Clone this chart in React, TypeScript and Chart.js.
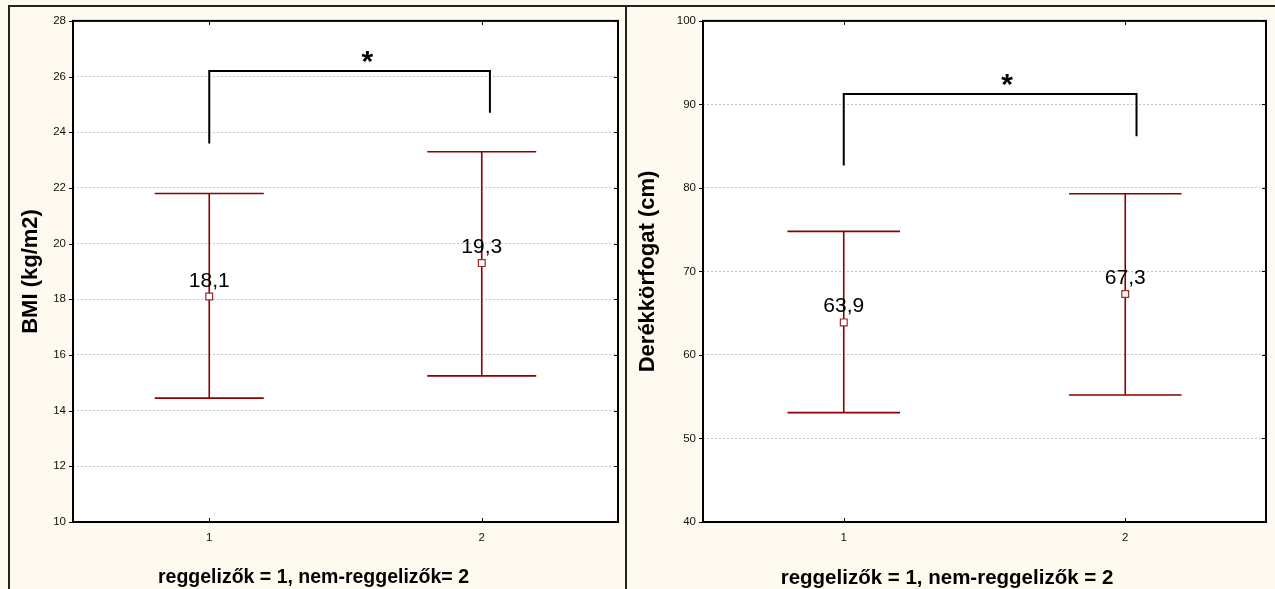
import React, { useEffect, useRef } from 'react';
import { Chart, registerables } from 'chart.js';

Chart.register(...registerables);

// ---- data ----
const categories = [1, 2];
const xTickLabels = ['1', '2'];

const bmiMean = [18.1, 19.3];
const bmiHigh = [21.8, 23.3];
const bmiLow = [14.45, 15.25];
const bmiBracketX = [1, 1, 2.03, 2.03];
const bmiBracketY = [23.6, 26.2, 26.2, 24.7];
const bmiStar = [1.58, 26.2];

const waistMean = [63.9, 67.3];
const waistHigh = [74.8, 79.3];
const waistLow = [53.1, 55.2];
const waistBracketX = [1, 1, 2.04, 2.04];
const waistBracketY = [82.7, 91.25, 91.25, 86.2];
const waistStar = [1.58, 91.3];

const FONT = '"Liberation Sans", Arial, sans-serif';
const ERR_COLOR = '#8b0000';
const FRAME = '#000000';

interface PanelSpec {
  yMin: number;
  yMax: number;
  yStep: number;
  mean: number[];
  high: number[];
  low: number[];
  bracketX: number[];
  bracketY: number[];
  star: number[];
  yTitle: string;
  xTitle: string;
  xTitleSize: number;
  axisWidth: number;
  padRight: number;
}

function makeChart(canvas: HTMLCanvasElement, p: PanelSpec) {
  const capHalf = 0.2;
  const overlay = {
    id: 'overlay',
    beforeDraw(chart: any) {
      const { ctx, chartArea } = chart;
      ctx.save();
      ctx.fillStyle = '#ffffff';
      ctx.fillRect(chartArea.left, chartArea.top, chartArea.right - chartArea.left, chartArea.bottom - chartArea.top);
      ctx.restore();
    },
    beforeDatasetsDraw(chart: any) {
      const { ctx } = chart;
      const x = chart.scales.x;
      const y = chart.scales.y;
      ctx.save();
      ctx.strokeStyle = ERR_COLOR;
      ctx.lineWidth = 1.6;
      categories.forEach((c, i) => {
        const px = x.getPixelForValue(c);
        const pl = x.getPixelForValue(c - capHalf);
        const pr = x.getPixelForValue(c + capHalf);
        const yh = y.getPixelForValue(p.high[i]);
        const yl = y.getPixelForValue(p.low[i]);
        ctx.beginPath();
        ctx.moveTo(px, yh);
        ctx.lineTo(px, yl);
        ctx.moveTo(pl, yh);
        ctx.lineTo(pr, yh);
        ctx.moveTo(pl, yl);
        ctx.lineTo(pr, yl);
        ctx.stroke();
      });
      ctx.restore();
    },
    afterDraw(chart: any) {
      const { ctx, chartArea } = chart;
      const x = chart.scales.x;
      const y = chart.scales.y;
      const { left, right, top, bottom } = chartArea;
      ctx.save();
      // frame
      ctx.strokeStyle = FRAME;
      ctx.lineWidth = 2;
      ctx.strokeRect(left, top, right - left, bottom - top);
      // ticks
      ctx.lineWidth = 1;
      ctx.beginPath();
      y.ticks.forEach((t: any) => {
        const py = Math.round(y.getPixelForValue(t.value)) + 0.5;
        ctx.moveTo(left - 4, py);
        ctx.lineTo(left, py);
        ctx.moveTo(right, py);
        ctx.lineTo(right - 4, py);
      });
      categories.forEach((c) => {
        const px = Math.round(x.getPixelForValue(c)) + 0.5;
        ctx.moveTo(px, top);
        ctx.lineTo(px, top + 4);
        ctx.moveTo(px, bottom);
        ctx.lineTo(px, bottom - 4);
      });
      ctx.stroke();
      // value labels
      ctx.fillStyle = '#000';
      ctx.font = `21px ${FONT}`;
      ctx.textAlign = 'center';
      ctx.textBaseline = 'alphabetic';
      categories.forEach((c, i) => {
        const px = x.getPixelForValue(c);
        const py = y.getPixelForValue(p.mean[i]);
        ctx.fillText(p.mean[i].toFixed(1).replace('.', ','), px, py - 10);
      });
      // star
      ctx.font = `bold 30px ${FONT}`;
      ctx.fillText('*', x.getPixelForValue(p.star[0]), y.getPixelForValue(p.star[1]));
      // x title
      ctx.font = `bold ${p.xTitleSize}px ${FONT}`;
      ctx.textBaseline = 'middle';
      ctx.fillText(p.xTitle, chart.width / 2 - 4, 571);
      // y title
      ctx.font = `bold 22px ${FONT}`;
      ctx.translate(21, (top + bottom) / 2);
      ctx.rotate(-Math.PI / 2);
      ctx.fillText(p.yTitle, 0, 0);
      ctx.restore();
    },
  };

  return new Chart(canvas, {
    type: 'scatter',
    data: {
      datasets: [
        {
          type: 'line',
          data: p.bracketX.map((bx, i) => ({ x: bx, y: p.bracketY[i] })),
          borderColor: '#000',
          borderWidth: 2,
          pointRadius: 0,
          showLine: true,
          tension: 0,
          fill: false,
          borderJoinStyle: 'miter',
          borderCapStyle: 'butt',
        } as any,
        {
          type: 'scatter',
          data: categories.map((c, i) => ({ x: c, y: p.mean[i] })),
          pointStyle: 'rect',
          pointRadius: 4.8,
          pointBorderWidth: 1.2,
          borderColor: '#a02828',
          backgroundColor: '#ffffff',
        } as any,
      ],
    },
    options: {
      responsive: false,
      animation: false,
      events: [],
      layout: { padding: { left: 0, top: 12, right: p.padRight, bottom: 0 } },
      plugins: { legend: { display: false }, tooltip: { enabled: false } },
      scales: {
        x: {
          type: 'linear',
          min: 0.5,
          max: 2.5,
          afterBuildTicks: (scale: any) => {
            scale.ticks = categories.map((v) => ({ value: v }));
          },
          afterFit: (scale: any) => {
            scale.height = 67;
          },
          grid: { display: false, drawTicks: false },
          border: { display: false },
          ticks: {
            padding: 9,
            color: '#111',
            font: { family: FONT, size: 11.5 },
            callback: (v: any) => {
              const idx = categories.indexOf(Number(v));
              return idx >= 0 ? xTickLabels[idx] : '';
            },
          },
        },
        y: {
          type: 'linear',
          min: p.yMin,
          max: p.yMax,
          afterFit: (scale: any) => {
            scale.width = p.axisWidth;
          },
          grid: { color: '#c4c4c4', lineWidth: 1, drawTicks: false },
          border: { display: false, dash: [2, 2] },
          ticks: {
            stepSize: p.yStep,
            padding: 7,
            color: '#111',
            font: { family: FONT, size: 11.5 },
          },
        },
      },
    },
    plugins: [overlay],
  } as any);
}

export default function App() {
  const c1 = useRef<HTMLCanvasElement>(null);
  const c2 = useRef<HTMLCanvasElement>(null);

  useEffect(() => {
    const a = makeChart(c1.current!, {
      yMin: 10,
      yMax: 28,
      yStep: 2,
      mean: bmiMean,
      high: bmiHigh,
      low: bmiLow,
      bracketX: bmiBracketX,
      bracketY: bmiBracketY,
      star: bmiStar,
      yTitle: 'BMI (kg/m2)',
      xTitle: 'reggelizők = 1, nem-reggelizők= 2',
      xTitleSize: 19.5,
      axisWidth: 63,
      padRight: 7,
    });
    const b = makeChart(c2.current!, {
      yMin: 40,
      yMax: 100,
      yStep: 10,
      mean: waistMean,
      high: waistHigh,
      low: waistLow,
      bracketX: waistBracketX,
      bracketY: waistBracketY,
      star: waistStar,
      yTitle: 'Derékkörfogat (cm)',
      xTitle: 'reggelizők = 1, nem-reggelizők = 2',
      xTitleSize: 20.5,
      axisWidth: 76,
      padRight: 9,
    });
    return () => {
      a.destroy();
      b.destroy();
    };
  }, []);

  return (
    <div
      style={{
        position: 'absolute',
        left: 0,
        top: 0,
        width: 1275,
        height: 589,
        background: '#fffaf0',
        overflow: 'hidden',
      }}
    >
      <div
        style={{
          position: 'absolute',
          left: 8,
          top: 5,
          width: 1267,
          height: 584,
          borderTop: '2px solid #222',
          borderLeft: '2px solid #222',
          boxSizing: 'border-box',
        }}
      />
      <div style={{ position: 'absolute', left: 625, top: 5, width: 2, height: 584, background: '#222' }} />
      <canvas ref={c1} width={615} height={582} style={{ position: 'absolute', left: 10, top: 7 }} />
      <canvas ref={c2} width={648} height={582} style={{ position: 'absolute', left: 627, top: 7 }} />
    </div>
  );
}
